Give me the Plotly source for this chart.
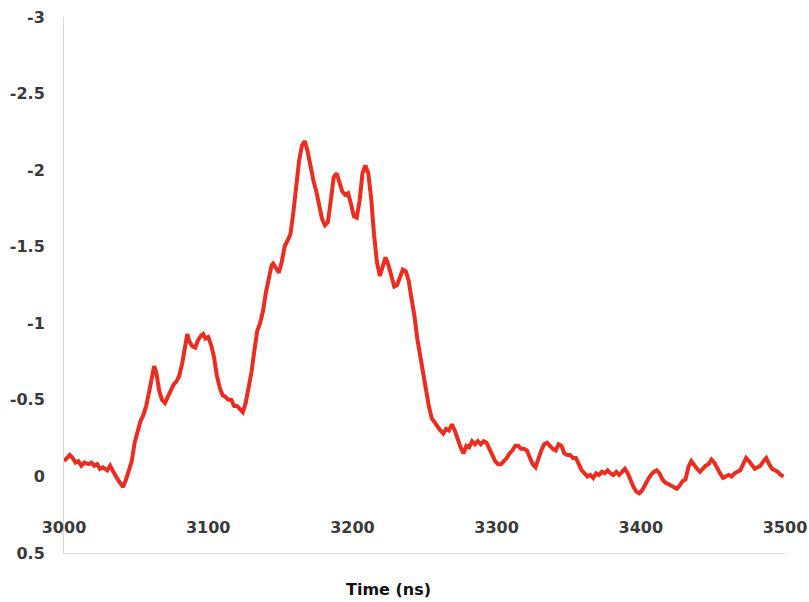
import plotly.graph_objects as go

time_ns = [3000, 3002, 3004, 3006, 3008, 3010, 3012, 3014, 3017, 3019, 3021, 3023, 3025, 3027, 3030, 3032, 3034, 3036, 3038, 3041,
           3043, 3045, 3047, 3049, 3051, 3053, 3055, 3057, 3059, 3061, 3062.5, 3064, 3066, 3068, 3070, 3072, 3074, 3076, 3078, 3080,
           3082, 3084, 3085.5, 3087, 3089, 3091, 3093, 3095, 3096.5, 3098, 3100, 3102, 3104, 3106, 3108, 3110, 3112, 3114, 3116, 3118,
           3120, 3122, 3124, 3126, 3128, 3130, 3132, 3134, 3136, 3138, 3140, 3142, 3144, 3145, 3147, 3149, 3151, 3153, 3155, 3157,
           3159, 3161, 3163, 3165, 3167, 3169, 3171, 3173, 3175, 3177, 3179, 3181, 3183, 3185, 3187, 3189, 3191, 3193, 3195, 3197,
           3199, 3201, 3203, 3205, 3207, 3209, 3211, 3213, 3215, 3217, 3219, 3221, 3223, 3225, 3227, 3229, 3231, 3233, 3235, 3237,
           3239, 3241, 3243, 3245, 3247, 3249, 3251, 3253, 3255, 3257, 3259, 3261, 3263, 3265, 3267, 3269, 3271, 3273, 3275, 3277,
           3279, 3281, 3283, 3285, 3287, 3289, 3291, 3293, 3295, 3297, 3299, 3301, 3303, 3305, 3307, 3309, 3311, 3313, 3315, 3317,
           3319, 3321, 3323, 3325, 3327, 3329, 3331, 3333, 3335, 3337, 3339, 3341, 3343, 3345, 3347, 3349, 3351, 3353, 3355, 3357,
           3359, 3361, 3363, 3365, 3367, 3369, 3371, 3373, 3375, 3377, 3379, 3381, 3383, 3385, 3387, 3389, 3391, 3393, 3395, 3397,
           3399, 3401, 3403, 3405, 3407, 3409, 3411, 3413, 3415, 3417, 3419, 3421, 3423, 3425, 3427, 3429, 3431, 3433, 3435, 3437,
           3439, 3441, 3443, 3445, 3447, 3449, 3451, 3453, 3455, 3457, 3459, 3461, 3463, 3465, 3467, 3469, 3471, 3473, 3475, 3477,
           3479, 3481, 3483, 3485, 3487, 3489, 3491, 3493, 3495, 3497, 3499]

signal = [-0.10, -0.12, -0.14, -0.12, -0.09, -0.10, -0.07, -0.09, -0.08, -0.09, -0.07, -0.08, -0.05, -0.06, -0.04, -0.07, -0.03, 0.00, 0.03, 0.07,
          0.02, -0.05, -0.10, -0.22, -0.30, -0.36, -0.40, -0.46, -0.55, -0.66, -0.72, -0.68, -0.56, -0.50, -0.48, -0.52, -0.56, -0.60, -0.62, -0.66,
          -0.74, -0.86, -0.93, -0.88, -0.85, -0.84, -0.89, -0.92, -0.93, -0.90, -0.91, -0.86, -0.78, -0.66, -0.58, -0.53, -0.52, -0.50, -0.50, -0.46,
          -0.46, -0.44, -0.42, -0.48, -0.58, -0.68, -0.82, -0.95, -1.00, -1.08, -1.20, -1.30, -1.38, -1.39, -1.36, -1.33, -1.40, -1.50, -1.54, -1.58,
          -1.72, -1.90, -2.06, -2.16, -2.19, -2.12, -2.02, -1.93, -1.86, -1.78, -1.68, -1.64, -1.66, -1.80, -1.95, -1.98, -1.92, -1.86, -1.84, -1.85,
          -1.78, -1.70, -1.69, -1.80, -1.98, -2.03, -1.98, -1.82, -1.58, -1.40, -1.31, -1.37, -1.43, -1.38, -1.30, -1.24, -1.25, -1.31, -1.35, -1.34,
          -1.28, -1.16, -1.05, -0.90, -0.78, -0.66, -0.55, -0.46, -0.38, -0.35, -0.33, -0.30, -0.28, -0.31, -0.30, -0.34, -0.30, -0.24, -0.19, -0.15,
          -0.20, -0.19, -0.23, -0.21, -0.23, -0.21, -0.23, -0.22, -0.18, -0.14, -0.10, -0.08, -0.08, -0.10, -0.12, -0.15, -0.17, -0.20, -0.20, -0.18,
          -0.18, -0.17, -0.12, -0.08, -0.06, -0.12, -0.17, -0.21, -0.22, -0.20, -0.18, -0.17, -0.21, -0.20, -0.15, -0.14, -0.14, -0.12, -0.12, -0.08,
          -0.04, -0.02, 0.00, -0.01, 0.01, -0.02, -0.01, -0.03, -0.02, -0.04, -0.02, -0.01, -0.03, -0.01, -0.03, -0.05, -0.02, 0.03, 0.07, 0.10,
          0.11, 0.09, 0.05, 0.02, -0.01, -0.03, -0.04, -0.02, 0.02, 0.04, 0.05, 0.06, 0.07, 0.08, 0.06, 0.03, 0.02, -0.06, -0.10, -0.07,
          -0.05, -0.03, -0.05, -0.07, -0.08, -0.11, -0.09, -0.05, -0.02, 0.01, 0.00, -0.01, 0.00, -0.02, -0.03, -0.04, -0.08, -0.12, -0.10, -0.07,
          -0.05, -0.06, -0.07, -0.10, -0.12, -0.08, -0.05, -0.04, -0.03, -0.01, 0.00]

y_tick_vals = [-3, -2.5, -2, -1.5, -1, -0.5, 0, 0.5]
y_tick_text = ["-3", "-2.5", "-2", "-1.5", "-1", "-0.5", "0", "0.5"]
x_tick_vals = [3000, 3100, 3200, 3300, 3400, 3500]
x_tick_text = ["3000", "3100", "3200", "3300", "3400", "3500"]
x_title = "Time (ns)"

FONT = "DejaVu Sans"
tick_font = dict(family=FONT, size=16, color="#3a3a3a", weight="bold")

fig = go.Figure()
fig.add_trace(go.Scatter(x=time_ns, y=signal, mode="lines",
                         line=dict(color="rgb(236,44,30)", width=4),
                         showlegend=False, hoverinfo="skip"))
# invisible trace to activate the label axis
fig.add_trace(go.Scatter(x=[3000, 3500], y=[None, None], xaxis="x2", yaxis="y",
                         mode="lines", showlegend=False, hoverinfo="skip"))

fig.update_layout(
    width=809, height=602,
    margin=dict(l=64, r=24, t=17, b=49, autoexpand=False),
    paper_bgcolor="white", plot_bgcolor="white",
    showlegend=False,
    xaxis=dict(range=[3000, 3500], showgrid=False, zeroline=False, automargin=False,
               showline=True, linecolor="#d9d9d9", linewidth=1,
               showticklabels=False, ticks=""),
    xaxis2=dict(range=[3000, 3500], overlaying="x", anchor="free", position=0.069,
                side="bottom", showgrid=False, zeroline=False, showline=False, automargin=False,
                tickvals=x_tick_vals, ticktext=x_tick_text, ticks="",
                tickfont=tick_font, ticklabelstandoff=0, ticklabeloverflow="allow"),
    yaxis=dict(range=[0.5, -3], showgrid=False, zeroline=False, automargin=False,
               showline=True, linecolor="#d9d9d9", linewidth=1,
               tickvals=y_tick_vals, ticktext=y_tick_text, ticks="",
               tickfont=tick_font, ticklabelstandoff=15, ticklabeloverflow="allow"),
    annotations=[dict(text=x_title, xref="paper", yref="paper", x=0.45, y=-0.069,
                      xanchor="center", yanchor="middle", showarrow=False,
                      font=dict(family=FONT, size=16, color="#111111", weight="bold"))],
)

fig.write_html("out.html",
               config={"displayModeBar": False, "staticPlot": True},
               post_script="document.body.style.margin='0';document.documentElement.style.overflow='hidden';document.body.style.overflow='hidden';")
